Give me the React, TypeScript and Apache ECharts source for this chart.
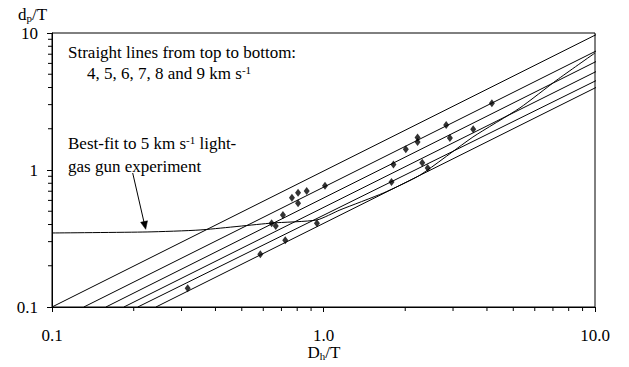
import React, { useEffect, useRef } from 'react';
import * as echarts from 'echarts';

// ---- tick labels ----
const xTickLabels = ['0.1', '1.0', '10.0'];
const yTickLabels = ['0.1', '1', '10'];
const minorTickValues = [0.2, 0.3, 0.4, 0.5, 0.6, 0.7, 0.8, 0.9, 2, 3, 4, 5, 6, 7, 8, 9];

// ---- straight lines (impact speed, km/s), top to bottom ----
const velocities = ['4', '5', '6', '7', '8', '9'];
const lineStartX = [0.1, 0.131, 0.158, 0.184, 0.207, 0.2415];
const lineStartY = [0.1, 0.1, 0.1, 0.1, 0.1, 0.1];
const lineEndX = [10.38, 10.38, 10.38, 10.38, 10.38, 10.38];
const lineEndY = [10.0, 7.6, 6.37, 5.38, 4.62, 4.12];

// ---- best-fit curve to 5 km/s light-gas gun experiment ----
const fitX = [0.1, 0.224, 0.351, 0.646, 0.946, 1.15, 1.66, 2.27, 3.55, 5.29, 7.24, 10];
const fitY = [0.347, 0.353, 0.365, 0.41, 0.432, 0.511, 0.679, 0.919, 1.74, 2.84, 4.54, 7.15];

// ---- experimental points ----
const expX = [0.316, 0.585, 0.723, 0.644, 0.667, 0.709, 0.806, 0.765, 0.806, 0.867, 1.013, 0.946,
  1.78, 1.81, 2.01, 2.22, 2.22, 2.31, 2.42, 2.83, 2.92, 3.56, 4.17];
const expY = [0.137, 0.243, 0.307, 0.408, 0.39, 0.469, 0.571, 0.628, 0.683, 0.703, 0.768, 0.408,
  0.818, 1.097, 1.416, 1.73, 1.6, 1.13, 1.035, 2.13, 1.71, 1.98, 3.07];

const FONT = "'Liberation Serif', 'Times New Roman', Times, serif";
const FS = 17;

export default function App() {
  const ref = useRef<HTMLDivElement>(null);
  useEffect(() => {
    if (!ref.current) return;
    const chart = echarts.init(ref.current, undefined, { renderer: 'svg' });

    const lineSeries = velocities.map((v, i) => ({
      name: v + ' km/s',
      type: 'line',
      data: [[lineStartX[i], lineStartY[i]], [lineEndX[i], lineEndY[i]]],
      symbol: 'none',
      clip: false,
      lineStyle: { color: '#000', width: 1 },
      silent: true,
      z: 3,
    }));

    const tickStyle = { stroke: '#000', lineWidth: 1 };
    const subRich = {
      n: { fontFamily: FONT, fontSize: FS, lineHeight: 13, verticalAlign: 'top', fill: '#000' },
      s: { fontFamily: FONT, fontSize: 11, lineHeight: 18, verticalAlign: 'bottom', fill: '#000' },
    };
    const supRich = {
      n: { fontFamily: FONT, fontSize: FS, lineHeight: FS, fill: '#000' },
      p: { fontFamily: FONT, fontSize: 11, lineHeight: 11, verticalAlign: 'top', fill: '#000' },
    };

    const option: any = {
      animation: false,
      backgroundColor: '#fff',
      textStyle: { fontFamily: FONT },
      grid: {
        left: 52, right: 34, top: 33, bottom: 60,
        show: true, borderColor: '#000', borderWidth: 1, backgroundColor: 'transparent',
      },
      xAxis: {
        type: 'log', logBase: 10, min: 0.1, max: 10, splitNumber: 2,
        axisLine: { show: true, lineStyle: { color: '#000', width: 1 } },
        axisTick: { show: true, length: 5, inside: false, lineStyle: { color: '#000' } },
        splitLine: { show: false },
        axisLabel: {
          margin: 21.5, color: '#000', fontFamily: FONT, fontSize: FS, lineHeight: 13,
          formatter: (v: number) => xTickLabels[Math.round(Math.log10(v)) + 1],
        },
      },
      yAxis: {
        type: 'log', logBase: 10, min: 0.1, max: 10, splitNumber: 2,
        axisLine: { show: true, lineStyle: { color: '#000', width: 1 } },
        axisTick: { show: true, length: 5, inside: false, lineStyle: { color: '#000' } },
        splitLine: { show: false },
        axisLabel: {
          margin: 14, color: '#000', fontFamily: FONT, fontSize: FS, lineHeight: 12,
          formatter: (v: number) => yTickLabels[Math.round(Math.log10(v)) + 1],
        },
      },
      series: [
        ...lineSeries,
        {
          name: 'best-fit',
          type: 'line',
          data: fitX.map((x, i) => [x, fitY[i]]),
          symbol: 'none',
          smooth: 0.2,
          lineStyle: { color: '#000', width: 1 },
          silent: true,
          z: 3,
        },
        {
          name: 'experiment',
          type: 'scatter',
          data: expX.map((x, i) => [x, expY[i]]),
          symbol: 'diamond',
          symbolSize: [6, 8],
          itemStyle: { color: '#000' },
          silent: true,
          z: 4,
        },
        {
          type: 'custom',
          clip: false,
          silent: true,
          data: minorTickValues.map((v) => [v, 0.1]),
          renderItem: (_p: any, api: any) => {
            const p = api.coord([api.value(0), api.value(1)]);
            return { type: 'line', shape: { x1: p[0], y1: p[1], x2: p[0], y2: p[1] + 4 }, style: tickStyle };
          },
        },
        {
          type: 'custom',
          clip: false,
          silent: true,
          data: minorTickValues.map((v) => [0.1, v]),
          renderItem: (_p: any, api: any) => {
            const p = api.coord([api.value(0), api.value(1)]);
            return { type: 'line', shape: { x1: p[0] - 4, y1: p[1], x2: p[0], y2: p[1] }, style: tickStyle };
          },
        },
      ],
      graphic: [
        {
          type: 'text', x: 18, y: 5.5,
          style: { text: '{n|d}{s|p}{n|/T}', verticalAlign: 'top', rich: subRich },
        },
        {
          type: 'text', x: 324, y: 343.5,
          style: { text: '{n|D}{s|h}{n|/T}', align: 'center', verticalAlign: 'top', rich: subRich },
        },
        {
          type: 'text', x: 68, y: 52.6,
          style: { text: 'Straight lines from top to bottom:', fontFamily: FONT, fontSize: FS, fill: '#000', verticalAlign: 'middle' },
        },
        {
          type: 'text', x: 87, y: 73.3,
          style: { text: '{n|4, 5, 6, 7, 8 and 9 km s}{p|-1}', verticalAlign: 'middle', rich: supRich },
        },
        {
          type: 'text', x: 68, y: 143.3,
          style: { text: '{n|Best-fit to 5 km s}{p|-1}{n| light-}', verticalAlign: 'middle', rich: supRich },
        },
        {
          type: 'text', x: 68, y: 166,
          style: { text: 'gas gun experiment', fontFamily: FONT, fontSize: FS, fill: '#000', verticalAlign: 'middle' },
        },
        {
          type: 'line',
          shape: { x1: 132.7, y1: 173, x2: 144.2, y2: 223 },
          style: { stroke: '#000', lineWidth: 1 },
        },
        {
          type: 'polygon',
          shape: { points: [[145.7, 229.3], [147.5, 220.8], [140.6, 222.3]] },
          style: { fill: '#000', stroke: '#000', lineWidth: 0.5 },
        },
      ],
    };
    chart.setOption(option);
    return () => chart.dispose();
  }, []);
  return (
    <div
      ref={ref}
      style={{ position: 'fixed', left: 0, top: 0, width: 629, height: 367, background: '#fff' }}
    />
  );
}
